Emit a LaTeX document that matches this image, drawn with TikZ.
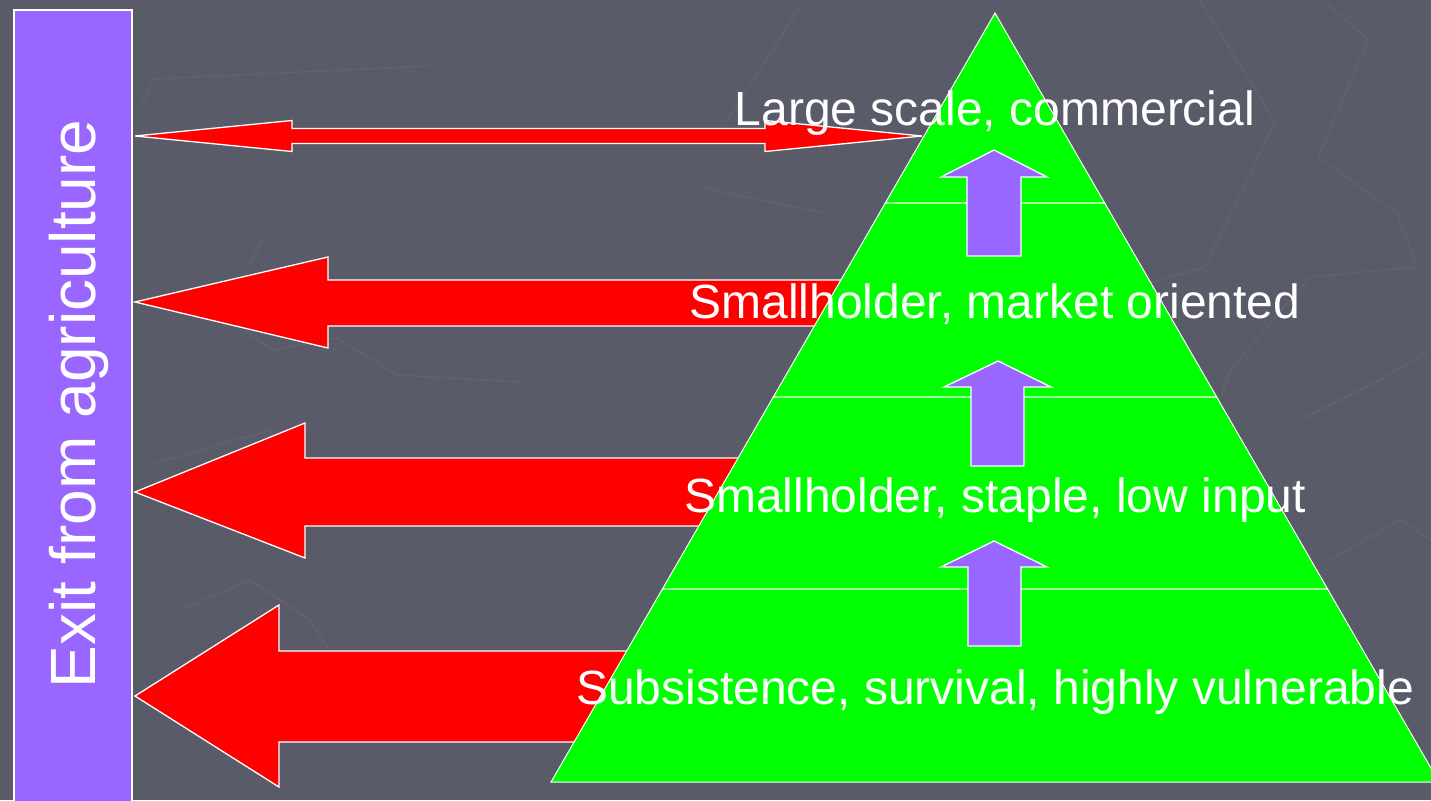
\documentclass[tikz,border=0pt]{standalone}
\usepackage{fontspec}
\setmainfont{Liberation Sans}
\definecolor{bg}{HTML}{5A5B69}
\definecolor{bgl}{HTML}{61626F}
\definecolor{purp}{HTML}{9966FF}
\definecolor{green1}{HTML}{00FF00}
\begin{document}
\begin{tikzpicture}[x=1pt,y=-1pt,
  redarrow/.style={fill=red, draw=white, line width=1.3pt, line join=miter},
  uparrow/.style={fill=purp, draw=white, line width=1.3pt, line join=miter},
  tier/.style={fill=green1, draw=white, line width=1pt},
  lbl/.style={text=white, font=\fontsize{48}{56}\selectfont, inner sep=0pt, anchor=base},
  bgline/.style={draw=bgl, line width=1.4pt, line join=round}]
\useasboundingbox (0,0) rectangle (1431,800);
\clip (0,0) rectangle (1431,800);
\fill[bg] (0,0) rectangle (1431,800);
% faint background texture
\draw[bgline] (1200,0) -- (1275,122) -- (1205,267) -- (1150,283);
\draw[bgline] (1323,0) -- (1368,40) -- (1318,157) -- (1397,213) -- (1417,267) -- (1310,277) -- (1230,370) -- (1210,430);
\draw[bgline] (140,110) -- (153,79) -- (300,72) -- (430,66);
\draw[bgline] (800,7) -- (723,127);
\draw[bgline] (700,187) -- (823,213);
\draw[bgline] (263,240) -- (247,267);
\draw[bgline] (243,330) -- (273,350) -- (337,338) -- (397,375) -- (520,382);
\draw[bgline] (150,465) -- (270,430) -- (290,480);
\draw[bgline] (180,610) -- (250,580) -- (310,620) -- (360,700);
\draw[bgline] (1300,420) -- (1380,380) -- (1431,350);
\draw[bgline] (1330,560) -- (1400,520) -- (1431,540);
% left bar
\path[fill=purp, draw=white, line width=1.3pt] (14,10) rectangle (132,812);
\node[rotate=90, anchor=base, inner sep=0pt, text=white, font=\fontsize{64}{72}\selectfont] (exit) at (95,404) {Exit from agriculture};
% red arrows
\path[redarrow] (135,136) -- (292,120.5) -- (292,128.5) -- (765,128.5) -- (765,120.5) -- (922,136) -- (765,151.5) -- (765,143.5) -- (292,143.5) -- (292,151.5) -- cycle;
\path[redarrow] (135,302) -- (328,257) -- (328,280) -- (900,280) -- (900,326) -- (328,326) -- (328,348) -- cycle;
\path[redarrow] (135,492) -- (305,423) -- (305,458) -- (800,458) -- (800,526) -- (305,526) -- (305,558) -- cycle;
\path[redarrow] (135,696) -- (279,605) -- (279,651) -- (700,651) -- (700,742) -- (279,742) -- (279,787) -- cycle;
% pyramid tiers
\path[tier] (995,13) -- (1104.7,203) -- (885.3,203) -- cycle;
\path[tier] (885.3,203) -- (1104.7,203) -- (1216.7,397) -- (773.3,397) -- cycle;
\path[tier] (773.3,397) -- (1216.7,397) -- (1327.6,589) -- (662.4,589) -- cycle;
\path[tier] (662.4,589) -- (1327.6,589) -- (1439,782) -- (551,782) -- cycle;
% purple up arrows
\path[uparrow] (994,150) -- (1047,177) -- (1021,177) -- (1021,256) -- (967,256) -- (967,177) -- (941,177) -- cycle;
\path[uparrow] (998,361) -- (1051,387) -- (1024,387) -- (1024,466) -- (971,466) -- (971,387) -- (944,387) -- cycle;
\path[uparrow] (994,541) -- (1047,567) -- (1021,567) -- (1021,646) -- (968,646) -- (968,567) -- (941,567) -- cycle;
% labels
\node[lbl] (t1) at (995,125) {Large scale, commercial};
\node[lbl] (t2) at (995,318) {Smallholder, market oriented};
\node[lbl] (t3) at (995,512) {Smallholder, staple, low input};
\node[lbl] (t4) at (995,704) {Subsistence, survival, highly vulnerable};
\end{tikzpicture}
\end{document}
